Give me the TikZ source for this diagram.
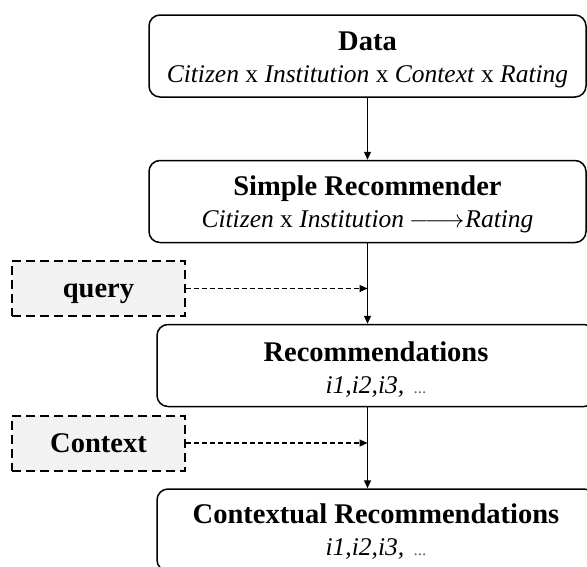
\documentclass[tikz,border=0pt]{standalone}
\usepackage{fontspec}
\setmainfont{Liberation Serif}
\usetikzlibrary{arrows.meta}
\definecolor{sidefill}{HTML}{F2F2F2}
\newcommand{\ttlfont}{\fontsize{28.5}{32}\selectfont\bfseries}
\newcommand{\subfont}{\fontsize{25.5}{32}\selectfont\itshape}
\newcommand{\dotsfont}{\fontsize{17}{32}\selectfont\color{black!60}}
% title line with a strut of given height, subtitle line with a fixed depth
\newcommand{\twoline}[3]{{\ttlfont\rule{0pt}{#1}#2}\\[0pt]{\subfont#3\rule[-7pt]{0pt}{7pt}}}
\begin{document}
\begin{tikzpicture}[x=1pt,y=-1pt,
  mainbox/.style={draw, line width=1.5pt, rounded corners=11pt, align=center, inner sep=0pt,
    minimum width=437pt, minimum height=82pt, font=\fontsize{25.5}{32}\selectfont},
  sidebox/.style={draw, line width=2pt, dash pattern=on 9pt off 5pt, fill=sidefill, inner sep=0pt,
    minimum width=173pt, minimum height=55pt, font=\ttlfont, text height=22pt, text depth=4pt},
  flow/.style={-{Triangle[length=8pt,width=7pt]}, line width=1.2pt},
  dflow/.style={-{Triangle[length=8pt,width=7pt]}, line width=1.1pt, dash pattern=on 5pt off 3pt}
]
\clip (0,0) rectangle (587,566);
\fill[white] (0,0) rectangle (587,566);
\node[mainbox] (data) at (367.5,56)
  {\twoline{27pt}{Data}{Citizen \textup{x} Institution \textup{x} Context \textup{x} Rating}};
\node[mainbox] (simple) at (367.5,201.5)
  {\twoline{26pt}{Simple Recommender}{Citizen \textup{x} Institution\kern5pt$\relbar\joinrel\longrightarrow$\kern1pt Rating}};
\node[mainbox, minimum width=438pt] (rec) at (376,365.5)
  {\twoline{30pt}{Recommendations}{i1,i2,i3, \kern3pt{\dotsfont\upshape ...}}};
\node[mainbox, minimum width=438pt] (ctxrec) at (376,530)
  {\twoline{25pt}{Contextual Recommendations}{i1,i2,i3, \kern3pt{\dotsfont\upshape ...}}};
\node[sidebox] (query) at (98.5,288.5) {query};
\node[sidebox] (context) at (98.5,443) {Context};
\draw[flow] (data.south) -- (simple.north);
\draw[flow] (simple.south) -- (simple.south |- rec.north);
\draw[flow] (simple.south |- rec.south) -- (simple.south |- ctxrec.north);
\draw[dflow] (query.east) -- (query.east -| simple.south);
\draw[dflow] (context.east) -- (context.east -| simple.south);
\end{tikzpicture}
\end{document}
